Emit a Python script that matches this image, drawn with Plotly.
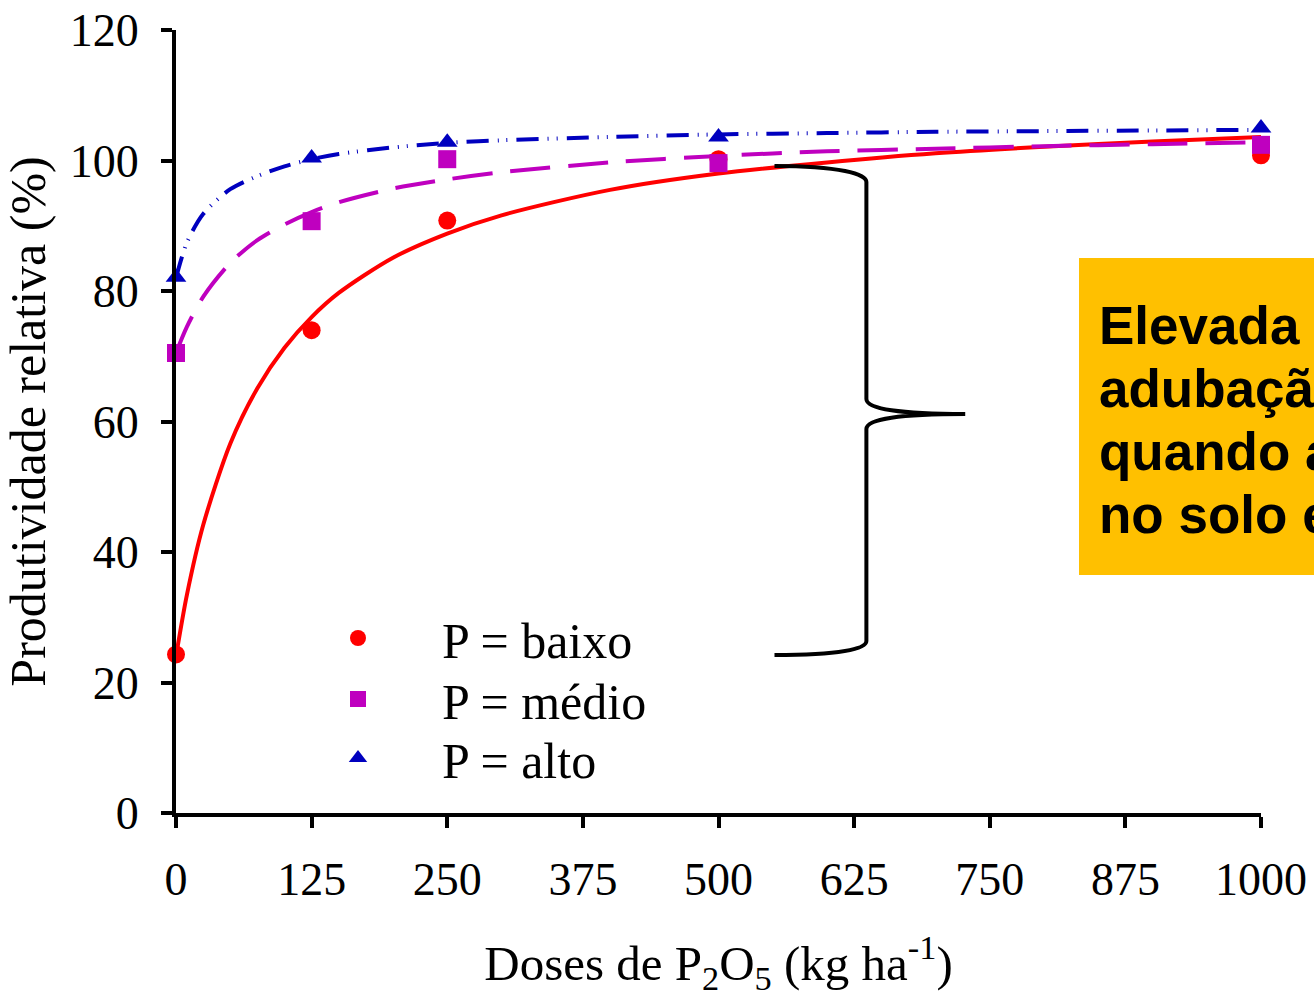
import plotly.graph_objects as go

# Observed relative yield (%) at each P2O5 dose (kg/ha)
doses = [0, 125, 250, 500, 1000]
prod_baixo = [24.3, 74.0, 90.8, 100.2, 100.8]
prod_medio = [70.5, 90.7, 100.2, 99.6, 102.4]
prod_alto = [82.1, 100.4, 102.8, 103.6, 105.0]

# Fitted response curves, sampled along the dose axis
curva_x = [0, 10, 25, 50, 75, 100, 125, 150, 200, 250, 300, 400, 500, 600, 700, 800, 900, 1000]
curva_baixo = [24.0, 33.4, 44.1, 56.6, 65.1, 71.3, 76.0, 79.7, 85.1, 88.8, 91.6, 95.5, 98.0, 99.7, 101.1, 102.1, 102.9, 103.6]
curva_medio = [70.5, 74.5, 79.1, 84.3, 87.8, 90.2, 92.1, 93.6, 95.7, 97.1, 98.2, 99.7, 100.7, 101.4, 101.8, 102.2, 102.5, 102.8]
curva_alto = [82.0, 87.4, 91.8, 95.6, 97.6, 99.1, 100.2, 101.0, 102.0, 102.7, 103.1, 103.6, 104.0, 104.2, 104.4, 104.5, 104.6, 104.7]

nomes = ["P = baixo", "P = médio", "P = alto"]
x_ticks = [0, 125, 250, 375, 500, 625, 750, 875, 1000]
y_ticks = [0, 20, 40, 60, 80, 100, 120]

texto_caixa = ["Elevada resposta à", "adubação fosfatada", "quando a análise de P", "no solo está baixa"]

VERMELHO = "#FF0000"
MAGENTA = "#BF00BF"
AZUL = "#0000BF"
LARANJA = "#FFC000"
SERIF = "Liberation Serif, Times New Roman, serif"
SANS = "Liberation Sans, Arial, sans-serif"

# plot-area geometry used to place paper-referenced items
L, R, T, B = 176, 53, 30, 184
W, H = 1314, 997
PW, PH = W - L - R, H - T - B


def px_x(p):
    return (p - L) / PW


def px_y(p):
    return (H - B - p) / PH


fig = go.Figure()

# Curves
fig.add_trace(go.Scatter(x=curva_x, y=curva_baixo, mode="lines", showlegend=False,
                         line=dict(color=VERMELHO, width=4, shape="spline", smoothing=0.8),
                         hoverinfo="skip"))
fig.add_trace(go.Scatter(x=curva_x, y=curva_medio, mode="lines", showlegend=False,
                         line=dict(color=MAGENTA, width=4, dash="40px,18px", shape="spline", smoothing=0.8),
                         hoverinfo="skip"))
fig.add_trace(go.Scatter(x=curva_x, y=curva_alto, mode="lines", showlegend=False,
                         line=dict(color=AZUL, width=4, dash="22px,9px,1px,8px,1px,9px", shape="spline", smoothing=0.8),
                         hoverinfo="skip"))

# Observed points, each with its own legend row
fig.add_trace(go.Scatter(x=doses, y=prod_baixo, mode="markers", name=nomes[0], legend="legend",
                         marker=dict(symbol="circle", size=18, color=VERMELHO), cliponaxis=False))
fig.add_trace(go.Scatter(x=doses, y=prod_medio, mode="markers", name=nomes[1], legend="legend2",
                         marker=dict(symbol="square", size=18, color=MAGENTA), cliponaxis=False))
fig.add_trace(go.Scatter(x=doses, y=prod_alto, mode="markers", name=nomes[2], legend="legend3",
                         marker=dict(symbol="triangle-up", size=18, color=AZUL), cliponaxis=False))

# Curly brace marking the response gap
chave = ("M 551.6,99.16 C 612,99.16 636.3,97.9 636.3,96.7 L 636.3,63.45 "
         "C 636.3,61.9 667.6,61.15 727.4,61.15 C 667.6,61.15 636.3,60.4 636.3,58.85 "
         "L 636.3,26.36 C 636.3,25.13 612,24.2 551.6,24.2")
fig.add_shape(type="path", path=chave, xref="x", yref="y",
              line=dict(color="black", width=4))

# Highlight box
fig.add_shape(type="rect", xref="paper", yref="paper", x0=px_x(1079), x1=1.4, y0=px_y(575), y1=px_y(258),
              fillcolor=LARANJA, line=dict(width=0), layer="above")
for linha, yc in zip(texto_caixa, [325, 388, 451, 514]):
    fig.add_annotation(text=linha, xref="paper", yref="paper", x=px_x(1097), y=px_y(yc),
                       xanchor="left", yanchor="middle", showarrow=False, align="left",
                       font=dict(family=SANS, size=53, color="black", weight="bold"))

eixo = dict(showline=True, linecolor="black", linewidth=4, ticks="outside", ticklen=11,
            tickwidth=4, tickcolor="black", showgrid=False, zeroline=False, automargin=False,
            tickfont=dict(family=SERIF, size=46, color="black"))

fig.update_xaxes(**eixo, range=[0, 1000], tickvals=x_ticks, ticktext=[str(v) for v in x_ticks],
                 ticklabelstandoff=12,
                 title=dict(text="Doses de P<sub>2</sub>O<sub>5</sub> (kg ha<sup>-1</sup>)",
                            font=dict(family=SERIF, size=49, color="black"), standoff=48))
fig.update_yaxes(**eixo, range=[0, 120], tickvals=y_ticks, ticktext=[str(v) for v in y_ticks],
                 ticklabelstandoff=13,
                 title=dict(text="Produtividade relativa (%)",
                            font=dict(family=SERIF, size=50, color="black"), standoff=12))

legenda = dict(xanchor="left", yanchor="middle", x=px_x(274),
               font=dict(family=SERIF, size=50, color="black"),
               bgcolor="rgba(0,0,0,0)", itemwidth=158)

fig.update_layout(
    width=W, height=H,
    margin=dict(l=L, r=R, t=T, b=B),
    paper_bgcolor="white", plot_bgcolor="white",
    showlegend=True,
    legend=dict(**legenda, y=px_y(638)),
    legend2=dict(**legenda, y=px_y(699)),
    legend3=dict(**legenda, y=px_y(758)),
)

fig.write_html("out.html")
